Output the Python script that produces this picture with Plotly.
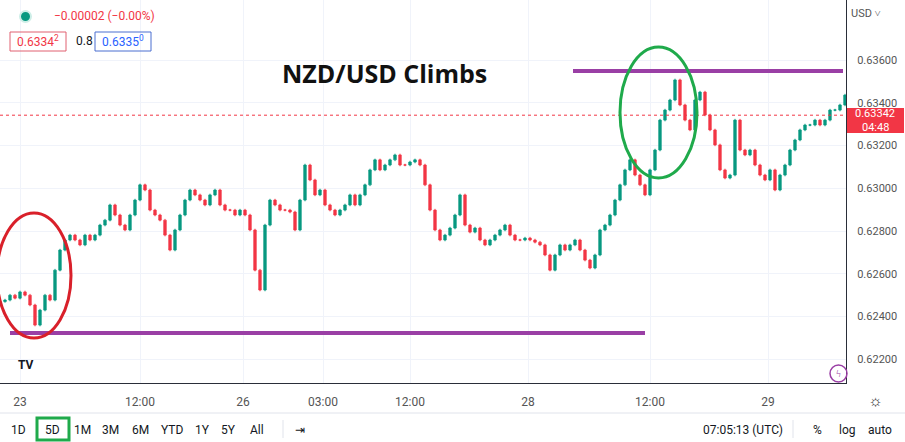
import plotly.graph_objects as go

# ---- data ----
closes = [0.62477,0.62500,0.62486,0.62515,0.62500,0.62454,0.62360,0.62430,0.62500,0.62477,
0.62617,0.62711,0.62758,0.62781,0.62758,0.62735,0.62781,0.62758,0.62781,0.62828,
0.62851,0.62922,0.62875,0.62828,0.62805,0.62875,0.62945,0.63016,0.62992,0.62898,
0.62875,0.62851,0.62781,0.62711,0.62805,0.62875,0.62945,0.62992,0.62969,0.62945,
0.62922,0.62969,0.62992,0.62922,0.62898,0.62898,0.62875,0.62898,0.62875,0.62805,
0.62617,0.62524,0.62828,0.62945,0.62922,0.62898,0.62898,0.62889,0.62805,0.62945,
0.63109,0.63039,0.62969,0.62992,0.62922,0.62898,0.62875,0.62898,0.62922,0.62969,
0.62922,0.62969,0.63016,0.63086,0.63133,0.63086,0.63109,0.63133,0.63156,0.63109,
0.63109,0.63123,0.63133,0.63109,0.63016,0.62898,0.62805,0.62758,0.62781,0.62814,
0.62875,0.62969,0.62828,0.62795,0.62814,0.62758,0.62735,0.62758,0.62781,0.62805,
0.62828,0.62781,0.62758,0.62758,0.62767,0.62758,0.62748,0.62735,0.62688,0.62617,
0.62688,0.62735,0.62711,0.62735,0.62758,0.62711,0.62664,0.62627,0.62688,0.62805,
0.62828,0.62875,0.62945,0.63016,0.63086,0.63133,0.63062,0.63016,0.62969,0.63086,
0.63179,0.63319,0.63366,0.63413,0.63507,0.63390,0.63319,0.63273,0.63413,0.63450,
0.63343,0.63273,0.63203,0.63086,0.63048,0.63062,0.63319,0.63179,0.63156,0.63179,
0.63109,0.63062,0.63039,0.63086,0.62992,0.63062,0.63109,0.63179,0.63226,0.63273,
0.63296,0.63296,0.63319,0.63296,0.63319,0.63366,0.63366,0.63390,0.63436,0.63413,
0.63413,0.63390,0.63342]
first_open = 0.62470
wick = 0.00006

tick_pos = [3, 27, 47.6, 63.6, 81, 104.6, 129, 152.6]
tick_text = ["23", "12:00", "26", "03:00", "12:00", "28", "12:00", "29"]
price_ticks = [0.622, 0.624, 0.626, 0.628, 0.630, 0.632, 0.634, 0.636]
support, resistance, last_price = 0.62323, 0.63549, 0.63342

opens = [first_open] + closes[:-1]
highs = [max(o, c) + wick for o, c in zip(opens, closes)]
lows = [min(o, c) - wick for o, c in zip(opens, closes)]
idx = list(range(len(closes)))

W, H = 905, 442
PW, PH = 846, 383
def px(x): return x / PW
def py(y): return 1 - y / PH

fig = go.Figure(go.Candlestick(
    x=idx, open=opens, high=highs, low=lows, close=closes,
    increasing=dict(line=dict(color="#089981", width=0.8), fillcolor="#089981"),
    decreasing=dict(line=dict(color="#f23645", width=0.8), fillcolor="#f23645"),
    whiskerwidth=0, showlegend=False, hoverinfo="skip"))

gray = "#131722"
fig.update_layout(
    width=W, height=H, margin=dict(l=0, r=W - PW, t=0, b=H - PH),
    paper_bgcolor="white", plot_bgcolor="white",
    font=dict(family="Roboto", size=12, color=gray),
    xaxis=dict(range=[-1, 168.2], tickvals=tick_pos, ticktext=tick_text,
               showgrid=True, gridcolor="#f0f3fa", rangeslider=dict(visible=False),
               showline=True, linecolor="#2a2e39", linewidth=1, ticks="",
               tickfont=dict(size=12, color="#555"), ticklabelstandoff=8, zeroline=False),
    yaxis=dict(range=[0.62089, 0.63881], side="right", tickvals=price_ticks,
               tickformat=".5f", showgrid=True, gridcolor="#f0f3fa",
               showline=True, linecolor="#2a2e39", linewidth=1, ticks="",
               tickfont=dict(size=11, color="#555"), ticklabelstandoff=8, zeroline=False),
)

shapes = [
    dict(type="line", xref="x", yref="y", x0=1, x1=128, y0=support, y1=support,
         line=dict(color="#9a3fa5", width=4)),
    dict(type="line", xref="x", yref="y", x0=113.6, x1=167.6, y0=resistance, y1=resistance,
         line=dict(color="#9a3fa5", width=4)),
    dict(type="line", xref="paper", yref="y", x0=0, x1=1, y0=last_price, y1=last_price,
         line=dict(color="#f23645", width=1, dash="dot")),
    dict(type="circle", xref="paper", yref="paper", x0=px(-3), x1=px(71), y0=py(213), y1=py(338),
         line=dict(color="#d9202a", width=3)),
    dict(type="circle", xref="paper", yref="paper", x0=px(620), x1=px(697), y0=py(47), y1=py(178),
         line=dict(color="#1faa4b", width=3)),
    dict(type="line", xref="paper", yref="paper", x0=0, x1=W / PW, y0=py(413), y1=py(413),
         line=dict(color="#e0e3eb", width=1)),
    dict(type="rect", xref="paper", yref="paper", x0=px(37), x1=px(69), y0=py(440), y1=py(418),
         line=dict(color="#1faa4b", width=3)),
    dict(type="line", xref="paper", yref="paper", x0=px(283), x1=px(283), y0=py(420), y1=py(438),
         line=dict(color="#e0e3eb", width=1)),
    dict(type="line", xref="paper", yref="paper", x0=px(793), x1=px(793), y0=py(420), y1=py(438),
         line=dict(color="#e0e3eb", width=1)),
    dict(type="rect", xref="paper", yref="paper", x0=px(847), x1=px(904), y0=py(108), y1=py(133),
         line=dict(width=0), fillcolor="#f23645"),
    dict(type="rect", xref="paper", yref="paper", x0=px(10), x1=px(66), y0=py(32), y1=py(51),
         line=dict(color="#e06070", width=1)),
    dict(type="rect", xref="paper", yref="paper", x0=px(95), x1=px(151), y0=py(32), y1=py(51),
         line=dict(color="#4a6fd0", width=1)),
    dict(type="circle", xref="paper", yref="paper", x0=px(20), x1=px(31), y0=py(11), y1=py(22),
         line=dict(color="#cdeee7", width=2), fillcolor="#089981"),
    dict(type="circle", xref="paper", yref="paper", x0=px(830), x1=px(847), y0=py(365), y1=py(382),
         line=dict(color="#9a3fa5", width=1.5)),
]
fig.update_layout(shapes=shapes)

def ann(x, y, text, size=12, color=gray, xanchor="center", family="Roboto", bold=False):
    fig.add_annotation(x=px(x), y=py(y), xref="paper", yref="paper", text=text, showarrow=False,
                       xanchor=xanchor, yanchor="middle",
                       font=dict(size=size, color=color, family=family,
                                 weight="bold" if bold else "normal"))

ann(384, 73, "NZD/USD Climbs", size=25, color="#111", family="Open Sans", bold=True)
ann(52, 16, "−0.00002 (−0.00%)", size=12, color="#f23645", xanchor="left")
ann(38, 41, "0.6334<sup>2</sup>", size=12, color="#f23645")
ann(84, 41, "0.8", size=12)
ann(123, 41, "0.6335<sup>0</sup>", size=12, color="#2962ff")
ann(866, 13, "USD ˅", size=11, color="#555")
ann(875, 114, "0.63342", size=11, color="white")
ann(875, 127, "04:48", size=11, color="white")
ann(838, 373, "ϟ", size=11, color="#9a3fa5")
ann(26, 365, "<b>TV</b>", size=12, color="#131722")
ann(875, 400, "☼", size=16, color="#333")
for x, t in [(18, "1D"), (53, "5D"), (82, "1M"), (110, "3M"), (140, "6M"), (172, "YTD"),
             (202, "1Y"), (228, "5Y"), (257, "All"), (300, "⇥"), (743, "07:05:13 (UTC)"),
             (817, "%"), (847, "log"), (880, "auto")]:
    ann(x, 430, t, size=12)

fig.write_html("out.html", config={"displayModeBar": False},
               post_script="document.body.style.margin='0';document.body.style.overflow='hidden';")
